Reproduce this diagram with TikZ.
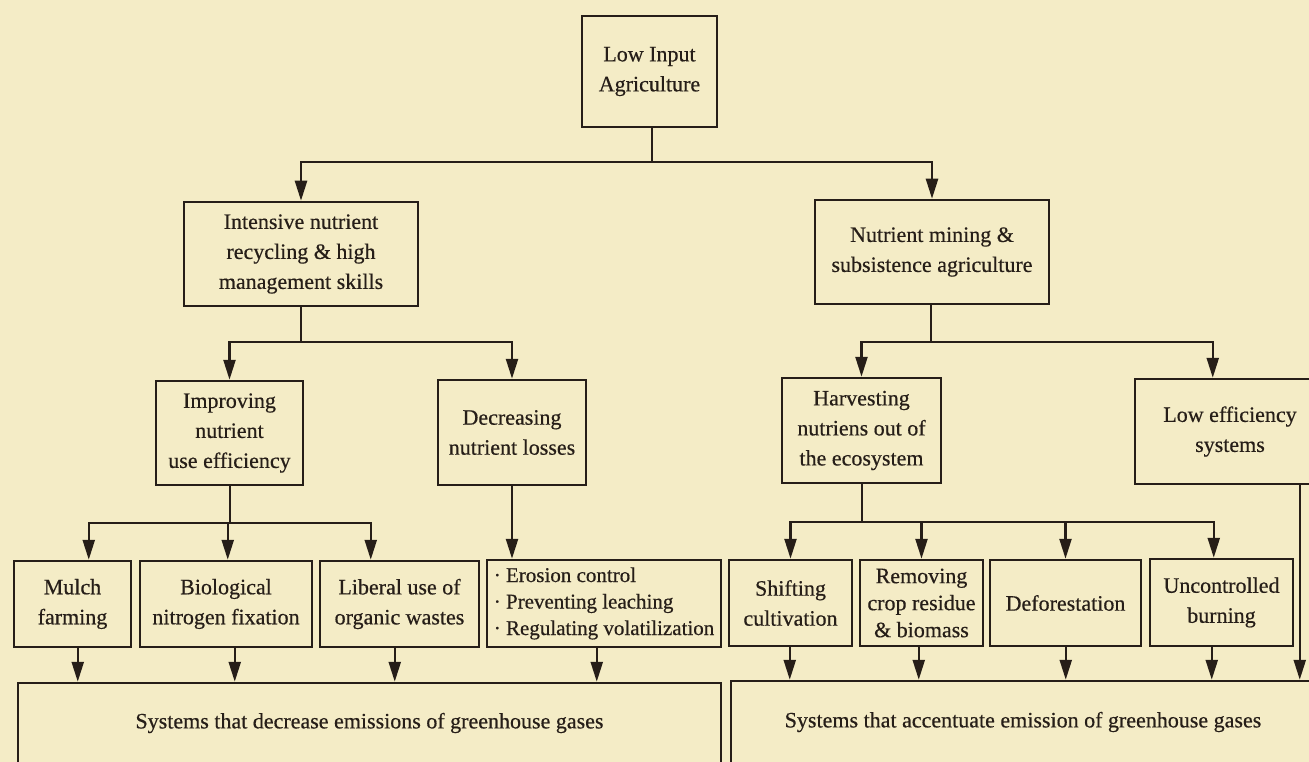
\documentclass[tikz,border=0pt]{standalone}
\usepackage{fontspec}
\setmainfont{Liberation Serif}[FakeBold=0.5]
\usetikzlibrary{arrows.meta,calc}
\definecolor{paper}{RGB}{244,236,198}
\definecolor{ink}{RGB}{38,30,24}

% box given by its corners: name, x1, y1, x2, y2, options, text
\newcommand\cornerbox[7]{%
  \node[box, minimum width={#4-#2}, minimum height={#5-#3}, #6]
    (#1) at ({(#2+#4)/2},{(#3+#5)/2}) {#7};}
% arrow dropping from node #1 (at #2 from its west side) onto the top of node #3
\newcommand\dropto[4]{%
  \path ($(#1.south west)+(#2,0)$) coordinate (#4);
  \draw[arr] (#4) -- (#4 |- #3.north);}

\begin{document}
\begin{tikzpicture}[x=1pt,y=-1pt,
  box/.style={draw=ink, line width=2.5pt, inner sep=0pt, align=center,
              text=ink, font=\fontsize{22}{30}\selectfont},
  tight/.style={font=\fontsize{22}{27}\selectfont},
  small/.style={font=\fontsize{21}{26.5}\selectfont},
  link/.style={draw=ink, line width=2.4pt},
  arr/.style={link, -{Triangle[length=20pt,width=12pt]}},
]
\fill[paper] (0,0) rectangle (1309,762);
\useasboundingbox (0,0) rectangle (1309,762);
\clip (0,0) rectangle (1309,762);

% top levels
\cornerbox{low}{582}{16}{717}{127}{}{Low Input\\Agriculture}
\cornerbox{intensive}{184}{202}{418}{306}{}{Intensive nutrient\\recycling \& high\\management skills}
\cornerbox{nutrient}{815}{200}{1049}{304}{}{Nutrient mining \&\\subsistence agriculture}

% second level
\cornerbox{improving}{156}{381}{303}{485}{}{Improving\\nutrient\\use efficiency}
\cornerbox{decreasing}{438}{380}{586}{485}{}{Decreasing\\nutrient losses}
\cornerbox{harvest}{782}{378}{941}{483}{}{Harvesting\\nutriens out of\\the ecosystem}
\cornerbox{loweff}{1135}{379}{1325}{484}{}{Low efficiency\\systems}

% practices
\cornerbox{mulch}{14}{561}{131}{647}{}{Mulch\\farming}
\cornerbox{bio}{140}{561}{312}{647}{}{Biological\\nitrogen fixation}
\cornerbox{liberal}{320}{561}{479}{647}{}{Liberal use of\\organic wastes}
\cornerbox{erosion}{487}{560}{721}{647}{small, align=left}{· Erosion control\\· Preventing leaching\\· Regulating volatilization}
\cornerbox{shifting}{729}{560}{852}{646}{}{Shifting\\cultivation}
\cornerbox{removing}{860}{560}{983}{646}{tight}{Removing\\crop residue\\\& biomass}
\cornerbox{defor}{990}{560}{1141}{646}{}{Deforestation}
\cornerbox{uncon}{1150}{559}{1293}{646}{}{Uncontrolled\\burning}

% outcomes
\cornerbox{botL}{18}{683}{721}{763}{}{Systems that decrease emissions of greenhouse gases}
\cornerbox{botR}{731}{681}{1315}{763}{}{Systems that accentuate emission of greenhouse gases}

% low input agriculture splits in two
\coordinate (t0) at (652,162);
\draw[link] (low.south -| t0) -- (t0);
\draw[arr] (t0) -| (intensive.north);
\draw[arr] (t0) -| (nutrient.north);

% intensive recycling branch
\coordinate (t1) at (301,342);
\draw[link] (intensive.south) -- (t1);
\draw[arr] (t1) -| (improving.north);
\draw[arr] (t1) -| (decreasing.north);

% nutrient mining branch
\coordinate (t2) at (931,342);
\draw[link] (nutrient.south -| t2) -- (t2);
\draw[arr] (t2) -| (harvest.north);
\draw[arr] (t2) -| ($(loweff.north west)+(79,0)$);

% improving efficiency practices
\coordinate (t3) at (230,523);
\draw[link] (improving.south -| t3) -- (t3);
\draw[arr] (t3) -| ($(mulch.north west)+(76,0)$);
\draw[arr] (t3) -| ($(bio.north west)+(89,0)$);
\draw[arr] (t3) -| ($(liberal.north west)+(52,0)$);

% decreasing losses
\draw[arr] (decreasing.south) -- (decreasing.south |- erosion.north);

% harvesting practices
\coordinate (t4) at (862,522);
\draw[link] (harvest.south -| t4) -- (t4);
\draw[arr] (t4) -| (shifting.north);
\draw[arr] (t4) -| (removing.north);
\draw[arr] (t4) -| (defor.north);
\draw[arr] (t4) -| ($(uncon.north west)+(65,0)$);

% everything feeds into the two outcomes
\dropto{mulch}{65}{botL}{o1}
\dropto{bio}{96}{botL}{o2}
\dropto{liberal}{76}{botL}{o3}
\dropto{erosion}{111}{botL}{o4}
\dropto{shifting}{62}{botR}{o5}
\dropto{removing}{60}{botR}{o6}
\dropto{defor}{77}{botR}{o7}
\dropto{uncon}{63}{botR}{o8}
\dropto{loweff}{166}{botR}{o9}
\end{tikzpicture}
\end{document}
